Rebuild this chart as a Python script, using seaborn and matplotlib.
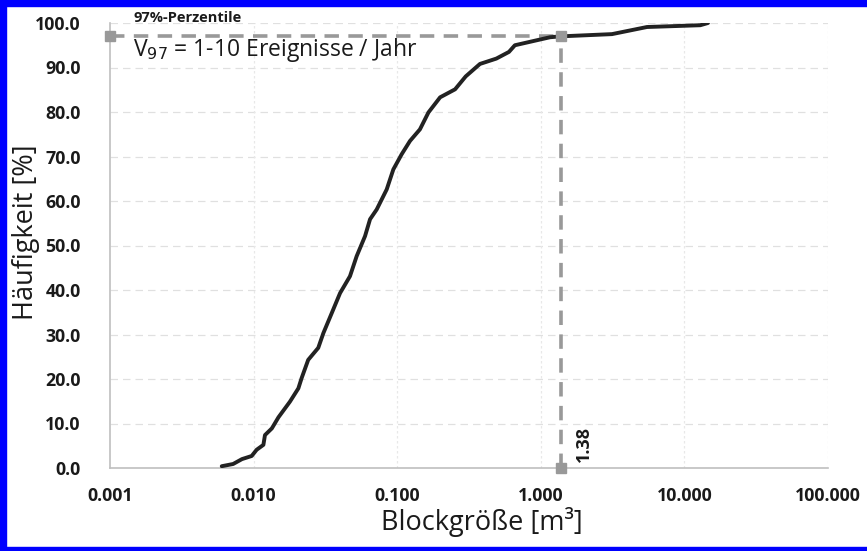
import matplotlib
matplotlib.use("Agg")
import matplotlib.pyplot as plt
import matplotlib.ticker as mticker
from matplotlib.patches import Rectangle
import seaborn as sns
import pandas as pd

# ---- data ----
block_size = [0.0060, 0.0072, 0.0083, 0.0097, 0.0105, 0.0117, 0.0120, 0.0134, 0.0149,
              0.0179, 0.0205, 0.0216, 0.0240, 0.0282, 0.0306, 0.0350, 0.0400, 0.0469,
              0.0522, 0.0597, 0.0647, 0.0720, 0.0845, 0.0940, 0.1074, 0.1228, 0.1440,
              0.1650, 0.1990, 0.2530, 0.3000, 0.3770, 0.4900, 0.6000, 0.6600, 1.1600,
              1.3800, 3.1300, 5.4900, 12.900, 14.600]
frequency = [0.4, 0.9, 2.0, 2.7, 4.1, 5.2, 7.4, 8.9, 11.4, 14.9, 17.9, 20.2, 24.3, 27.0,
             30.3, 34.8, 39.3, 43.1, 47.6, 52.1, 55.9, 58.1, 62.6, 67.1, 70.5, 73.5, 76.1,
             79.9, 83.3, 85.1, 88.0, 90.8, 92.0, 93.5, 95.0, 96.8, 97.0, 97.5, 99.1, 99.5,
             100.0]
percentile_value = 1.38
percentile_level = 97.0
x_ticks = [0.001, 0.01, 0.1, 1, 10, 100]
x_tick_labels = ["0.001", "0.010", "0.100", "1.000", "10.000", "100.000"]
y_ticks = [0, 10, 20, 30, 40, 50, 60, 70, 80, 90, 100]

df = pd.DataFrame({"Blockgröße": block_size, "Häufigkeit": frequency})

sns.set_style("white")
plt.rcParams["font.family"] = ["Open Sans", "DejaVu Sans"]

fig = plt.figure(figsize=(8.67, 5.51), dpi=100)
ax = fig.add_axes([110 / 867, 1 - 468 / 551, (828 - 110) / 867, (468 - 23) / 551])

# grid
ax.set_xscale("log")
ax.set_xlim(0.001, 100)
ax.set_ylim(0, 100)
for yv in y_ticks[1:]:
    ax.axhline(yv, color="#e0e0e0", lw=0.9, ls=(0, (6, 4)), zorder=0)
for xv in x_ticks[1:]:
    ax.axvline(xv, color="#e8e8e8", lw=0.9, ls=(0, (2, 2)), zorder=0)

# percentile guides
guide_c = "#999999"
ax.plot([0.001, percentile_value], [percentile_level, percentile_level], color=guide_c,
        lw=2.6, ls=(0, (4, 2.6)), zorder=2, clip_on=False)
ax.plot([percentile_value, percentile_value], [0, percentile_level], color=guide_c,
        lw=2.6, ls=(0, (4, 2.6)), zorder=2, clip_on=False)
ax.plot([0.001, percentile_value, percentile_value], [percentile_level, percentile_level, 0],
        ls="none", marker="s", ms=7, color=guide_c, zorder=4, clip_on=False)

# curve
sns.lineplot(data=df, x="Blockgröße", y="Häufigkeit", ax=ax, color="#222222",
             lw=2.8, zorder=3, estimator=None, sort=False)

# axes styling
for s in ["top", "right"]:
    ax.spines[s].set_visible(False)
for s in ["left", "bottom"]:
    ax.spines[s].set_color("#bfbfbf")
    ax.spines[s].set_linewidth(1.2)

ax.set_xticks(x_ticks)
ax.set_xticklabels(x_tick_labels)
ax.xaxis.set_minor_locator(mticker.LogLocator(base=10, subs=range(2, 10), numticks=20))
ax.xaxis.set_minor_formatter(mticker.NullFormatter())
ax.set_yticks(y_ticks)
ax.set_yticklabels([f"{v:.1f}" for v in y_ticks])
ax.yaxis.set_minor_locator(mticker.MultipleLocator(5))

ax.tick_params(axis="both", which="major", direction="inout", length=8, width=1.1,
               color="#bfbfbf", labelsize=12.8)
ax.tick_params(axis="x", which="minor", direction="out", length=4, width=1.0, color="#bfbfbf")
ax.tick_params(axis="y", which="minor", direction="inout", length=8, width=1.0, color="#bfbfbf")
ax.tick_params(axis="x", which="major", pad=10)
ax.tick_params(axis="y", which="major", pad=17)
for lab in ax.get_xticklabels() + ax.get_yticklabels():
    lab.set_fontweight("bold")
    lab.set_color("#1a1a1a")

ax.set_xlabel("")
ax.set_ylabel("")
fig.text(482 / 867, 1 - 522 / 551, "Blockgröße [m³]", fontsize=19.5, color="#1a1a1a",
         ha="center", va="center")
fig.text(26 / 867, 1 - 232 / 551, "Häufigkeit [%]", fontsize=19.5, color="#1a1a1a",
         ha="center", va="center", rotation=90)

# annotations
fig.text(133 / 867, 1 - 18 / 551, "97%-Perzentile", fontsize=10.5, fontweight="bold",
         color="#1a1a1a", va="center", ha="left")
fig.text(133 / 867, 1 - 50 / 551, r"V$_{97}$ = 1-10 Ereignisse / Jahr", fontsize=16.5,
         color="#1a1a1a", va="center", ha="left")
ax.annotate(f"{percentile_value:.2f}", xy=(percentile_value, 0), xytext=(10, 4),
            textcoords="offset points", rotation=90, fontsize=13, fontweight="bold",
            color="#1a1a1a", ha="left", va="bottom")

# blue frame
fig.patches.append(Rectangle((0, 0), 6 / 867, 1, transform=fig.transFigure,
                             color="#0000ff", zorder=10))
fig.patches.append(Rectangle((0, 1 - 6 / 551), 1, 6 / 551, transform=fig.transFigure,
                             color="#0000ff", zorder=10))
fig.patches.append(Rectangle((0, 0), 1, 4 / 551, transform=fig.transFigure,
                             color="#0000ff", zorder=10))

fig.savefig("out.png", dpi=100)
